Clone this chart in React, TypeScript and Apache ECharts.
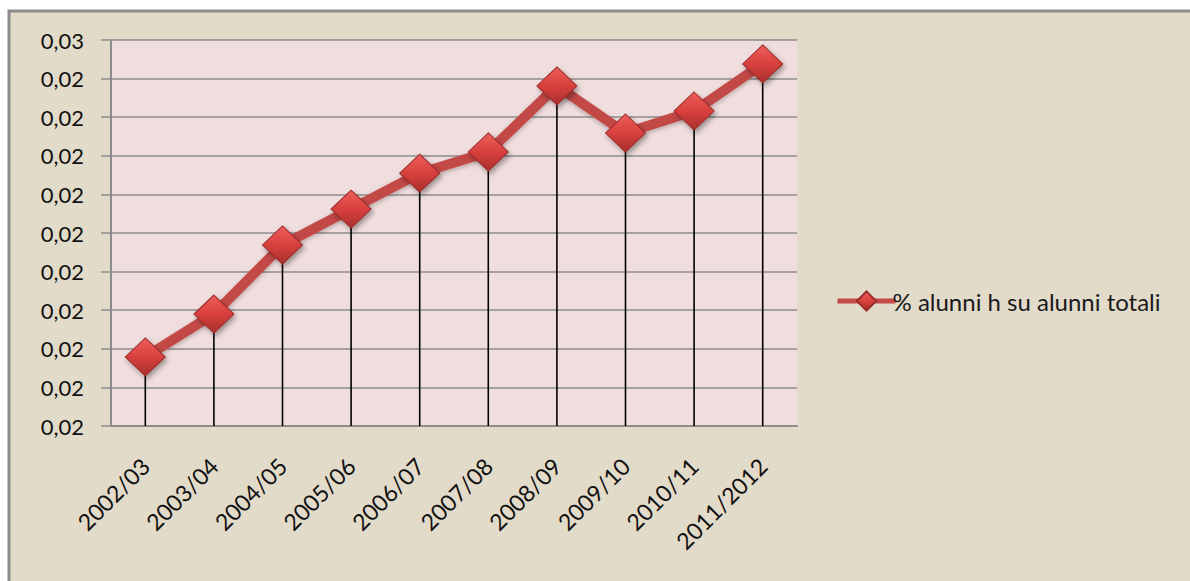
import React, { useEffect, useRef } from "react";
import * as echarts from "echarts";

const categories = [
  "2002/03", "2003/04", "2004/05", "2005/06", "2006/07",
  "2007/08", "2008/09", "2009/10", "2010/11", "2011/2012",
];
const values = [
  0.02179, 0.0229, 0.02469, 0.02562, 0.02655,
  0.0271, 0.02881, 0.02759, 0.02816, 0.02938,
];
const yTickLabels = [
  "0,02", "0,02", "0,02", "0,02", "0,02", "0,02",
  "0,02", "0,02", "0,02", "0,02", "0,03",
];
const seriesName = "% alunni h su alunni totali";

const FONT = "Lato, 'Open Sans', sans-serif";

export default function App() {
  const ref = useRef<HTMLDivElement>(null);
  useEffect(() => {
    if (!ref.current) return;
    const chart = echarts.init(ref.current, undefined, { renderer: "svg" });
    chart.setOption({
      animation: false,
      backgroundColor: "#ffffff",
      graphic: [
        {
          type: "rect",
          z: -10,
          shape: { x: 9, y: 11, width: 1200, height: 600 },
          style: { fill: "#E3DBCA", stroke: "#8C8C8C", lineWidth: 3 },
        },
      ],
      grid: { left: 111, top: 40, right: 393, bottom: 155, backgroundColor: "#F0DDDD", show: true, borderWidth: 0 },
      legend: {
        data: [seriesName],
        orient: "vertical",
        left: 830,
        top: 284,
        itemWidth: 58,
        itemHeight: 24,
        itemGap: 4,
        lineStyle: { width: 5 },
        textStyle: { fontFamily: FONT, fontSize: 24, color: "#1a1a1a", padding: [0, 0, 0, -8] },
      },
      xAxis: {
        type: "category",
        data: categories,
        boundaryGap: true,
        axisLine: { show: true, lineStyle: { color: "#8C8C8C", width: 2 } },
        axisTick: { show: false },
        axisLabel: {
          rotate: 45,
          interval: 0,
          margin: 36,
          fontFamily: FONT,
          fontSize: 23,
          color: "#111",
        },
      },
      yAxis: {
        type: "value",
        min: 0.02,
        max: 0.03,
        interval: 0.001,
        axisLine: { show: true, lineStyle: { color: "#8C8C8C", width: 2 } },
        axisTick: { show: true, length: 10, lineStyle: { color: "#8C8C8C", width: 1.5 } },
        splitLine: { show: true, lineStyle: { color: "#8C8C8C", width: 1.5 } },
        axisLabel: {
          margin: 27,
          fontFamily: FONT,
          fontSize: 22,
          color: "#111",
          formatter: (v: number) => yTickLabels[Math.round((v - 0.02) / 0.001)] ?? "",
        },
      },
      series: [
        {
          type: "bar",
          name: "drop",
          data: values,
          barWidth: 1.6,
          itemStyle: { color: "#000" },
          z: 1,
          silent: true,
        },
        {
          type: "line",
          name: seriesName,
          data: values,
          z: 3,
          symbol: "diamond",
          symbolSize: [40, 38],
          lineStyle: {
            color: "#C34A47",
            width: 10,
            shadowColor: "rgba(0,0,0,0.25)",
            shadowBlur: 4,
            shadowOffsetY: 2,
          },
          itemStyle: {
            color: new echarts.graphic.LinearGradient(0, 0, 0, 1, [
              { offset: 0, color: "#EE5F5B" },
              { offset: 0.5, color: "#D8403D" },
              { offset: 1, color: "#A9302D" },
            ]),
            borderColor: "#9A2C2A",
            borderWidth: 1,
            shadowColor: "rgba(0,0,0,0.35)",
            shadowBlur: 5,
            shadowOffsetX: 2,
            shadowOffsetY: 3,
          },
        },
      ],
    });
    return () => chart.dispose();
  }, []);
  return (
    <div
      ref={ref}
      style={{ position: "fixed", left: 0, top: 0, width: 1190, height: 581 }}
    />
  );
}
